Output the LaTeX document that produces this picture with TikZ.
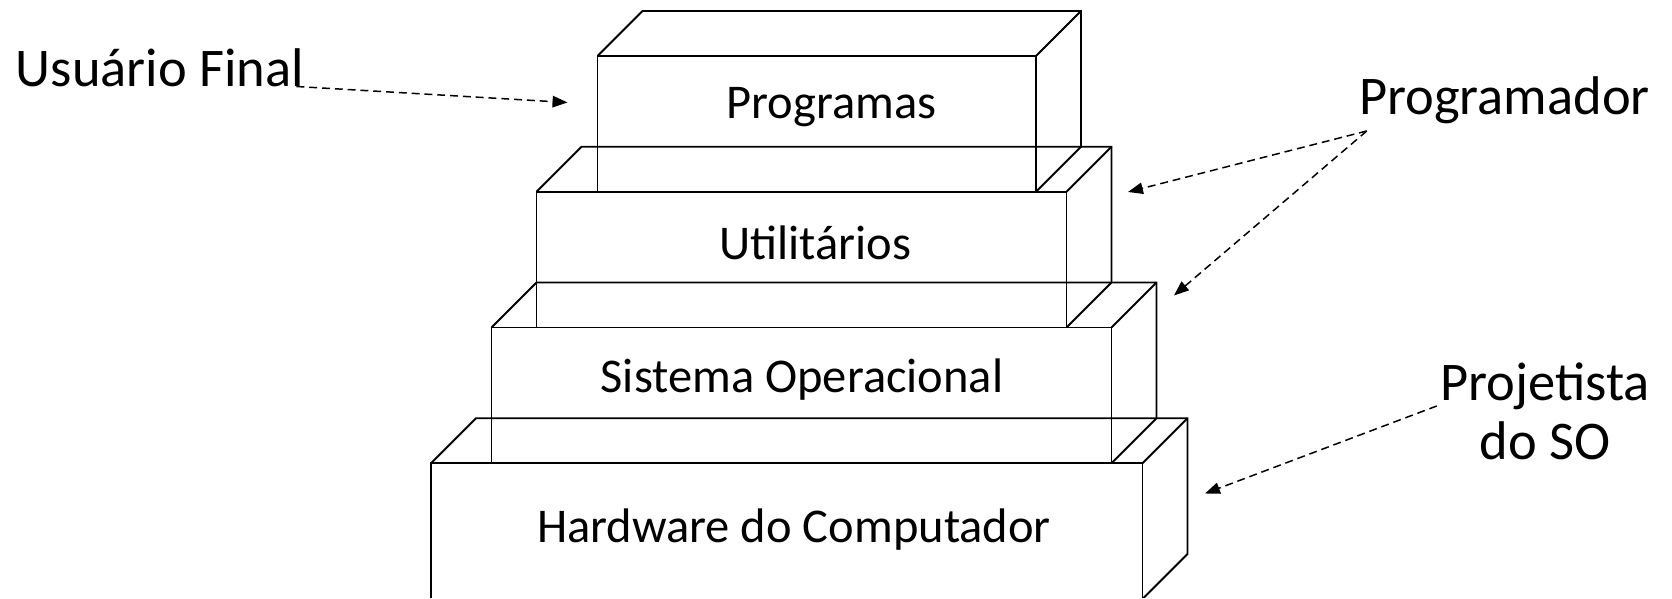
\documentclass[tikz,border=0pt]{standalone}
\usepackage{fontspec}
\setmainfont{Carlito}
\usetikzlibrary{arrows.meta}
\tikzset {>={Triangle[length=8.5pt,width=6.5pt]}}

\begin{document}
\begin{tikzpicture}[line width=1.1pt,
  every node/.style={inner sep=0pt,font=\fontsize{27.6}{32}\selectfont},
  papel/.style={font=\fontsize{31}{33.5}\selectfont},
  seta/.style={->,line width=.85pt,dash pattern=on 4.5pt off 2.8pt}]
\useasboundingbox (0,0) rectangle (33.44,11.98);
\clip (0,.025) rectangle (33.44,11.98);
\foreach \x/\y/\w in {8.62/0/14.23,9.83/2.715/12.4,10.73/5.43/10.6,11.95/8.145/8.77} {
  \draw (\x,\y) rectangle ++(\w,2.715);
  \draw (\x,\y+2.715) -- ++(.9,.9) -- ++(\w,0) -- ++(0,-2.715) -- ++(-.9,-.9);
  \draw (\x+\w,\y+2.715) -- ++(.9,.9);
}
\node (programas) at (16.63,9.83) {Programas};
\node (utilitarios) at (16.31,7.12) {Utilitários};
\node (so) at (16.04,4.39) {Sistema Operacional};
\node (hardware) at (15.88,1.38) {Hardware do Computador};
\node [papel,anchor=base west] (usuario) at (.3,10.25) {Usuário Final};
\node [papel,anchor=base] (programador) at (30.09,9.68) {Programador};
\node [papel,align=center] (projetista) at (30.9,3.76) {Projetista\\do SO};
\coordinate (A) at (11.35,9.93);
\coordinate (B) at (22.56,8.14);
\coordinate (C) at (23.48,6.07);
\coordinate (D) at (24.1,2.11);
\draw[seta] ([xshift=-5pt]usuario.base east) -- (A);
\draw[seta] ([shift={(.17,-.32)}]programador.base west) -- (B);
\draw[seta] ([shift={(.17,-.32)}]programador.base west) -- (C);
\draw[seta] ([shift={(-.05,.1)}]projetista.west) -- (D);
\end{tikzpicture}
\end{document}
